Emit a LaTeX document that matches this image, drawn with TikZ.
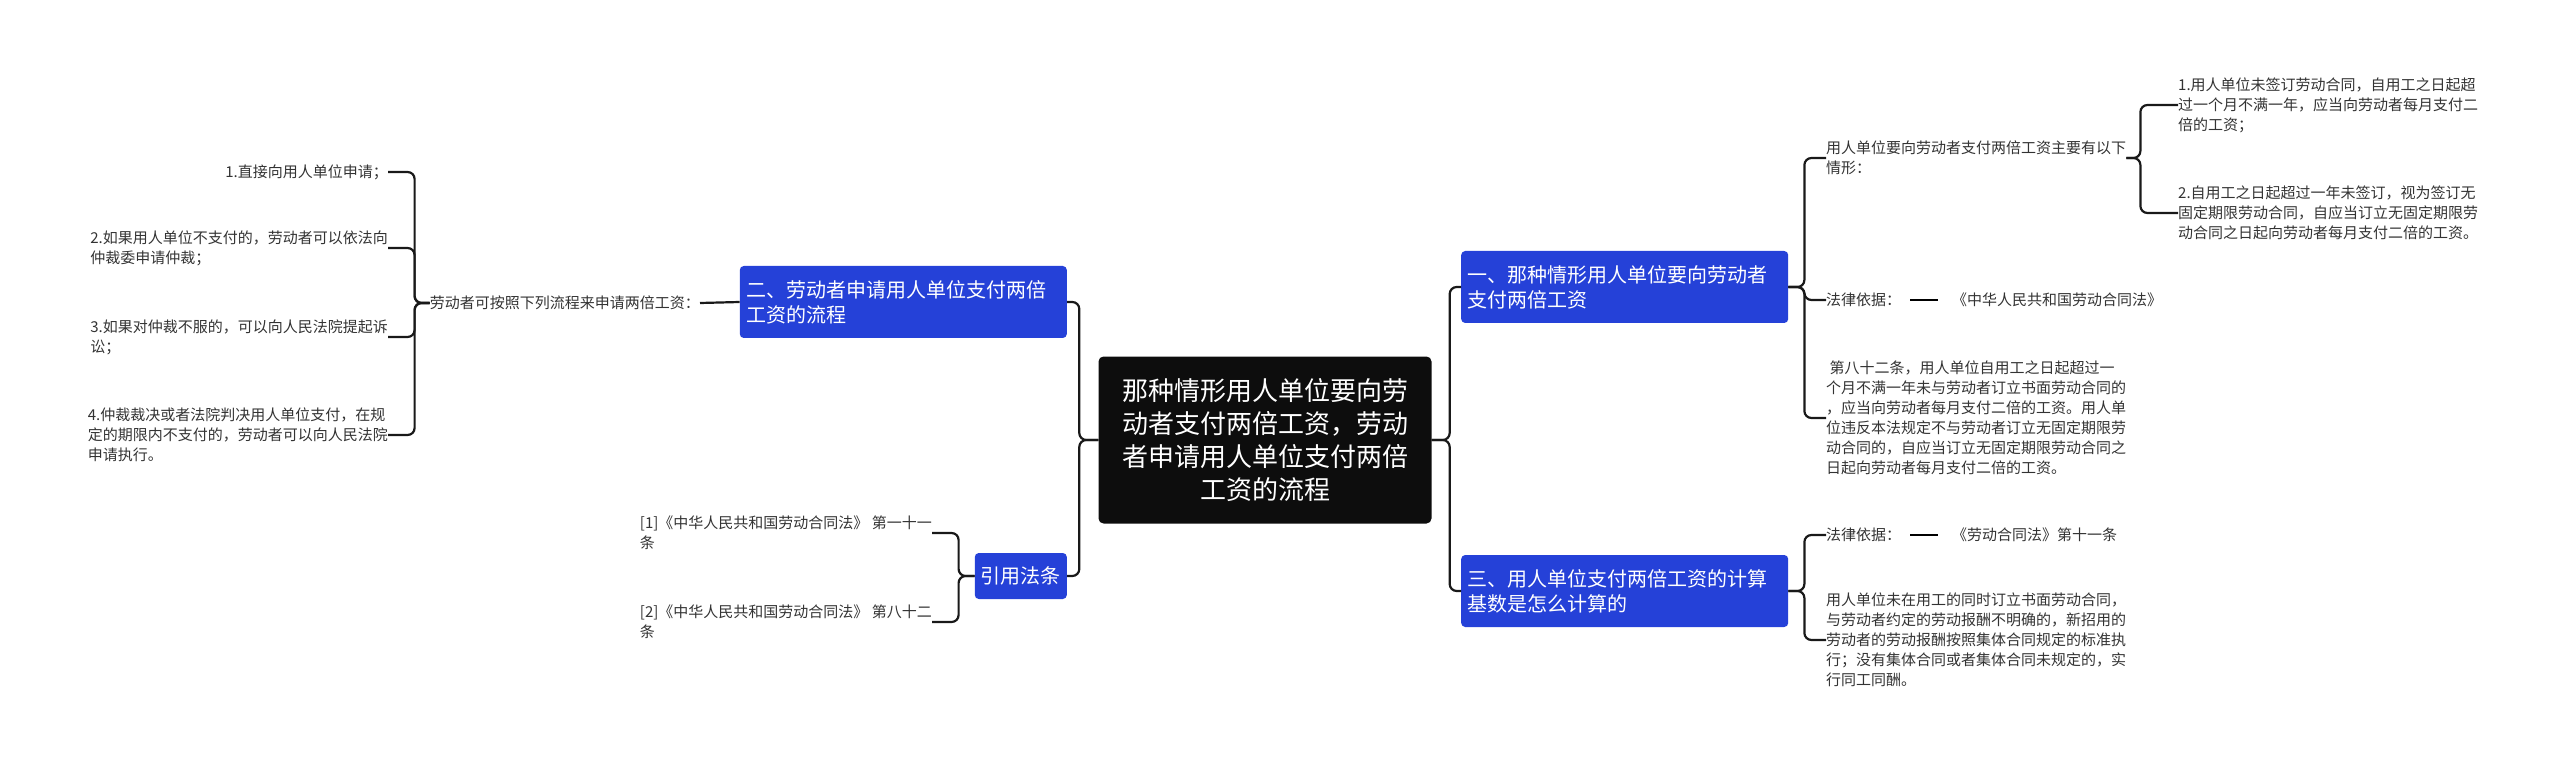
\documentclass[tikz,border=0pt]{standalone}
\usepackage{fontspec}
\setmainfont{Noto Sans CJK SC}
\begin{document}
\begin{tikzpicture}[x=1pt,y=-1pt,
  leaf/.style={inner sep=0pt,align=left,text=black!80,font=\fontsize{15}{20}\selectfont},
  br/.style={fill=blue!72!black!80!cyan,draw=none,rounded corners=4pt,text=white,align=left,inner sep=6pt,font=\fontsize{20}{25}\selectfont,minimum height=72pt,minimum width=327pt,text width=314pt},
  conn/.style={line width=2.2pt,draw=black!90,rounded corners=7pt}]
\definecolor{boxblue}{HTML}{2541D8}
\tikzset{br/.append style={fill=boxblue}}
\useasboundingbox (0,0) rectangle (2560,767);
% center
\node[fill=black!95,rounded corners=5pt,text=white,align=center,minimum width=333pt,minimum height=167pt,font=\fontsize{26}{33}\selectfont] (c) at (1265,440) {那种情形用人单位要向劳\\动者支付两倍工资，劳动\\者申请用人单位支付两倍\\工资的流程};
% branches
\node[br,anchor=west] (r1) at (1461,287) {一、那种情形用人单位要向劳动者\\支付两倍工资};
\node[br,anchor=west] (r3) at (1461,591) {三、用人单位支付两倍工资的计算\\基数是怎么计算的};
\node[br,anchor=east] (b2) at (1067,302) {二、劳动者申请用人单位支付两倍\\工资的流程};
\node[br,anchor=east,minimum width=0pt,text width=,minimum height=46pt,align=center] (ct) at (1067,576) {引用法条};
\draw[conn] (c.east) -- ++(18,0) |- (r1.west);
\draw[conn] (c.east) -- ++(18,0) |- (r3.west);
\draw[conn] (c.west) -- ++(-19,0) |- (b2.east);
\draw[conn] (c.west) -- ++(-19,0) |- (ct.east);
% left side
\node[leaf,anchor=east] (mid) at (700,303) {劳动者可按照下列流程来申请两倍工资：};
\draw[conn] (b2.west) -- (mid.east);
\node[leaf,anchor=east] (l1) at (388,172) {1.直接向用人单位申请；};
\node[leaf,anchor=east] (l2) at (388,248) {2.如果用人单位不支付的，劳动者可以依法向\\仲裁委申请仲裁；};
\node[leaf,anchor=east] (l3) at (388,337) {3.如果对仲裁不服的，可以向人民法院提起诉\\讼；};
\node[leaf,anchor=east] (l4) at (388,435) {4.仲裁裁决或者法院判决用人单位支付，在规\\定的期限内不支付的，劳动者可以向人民法院\\申请执行。};
\foreach \n in {l1,l2,l3,l4} \draw[conn] (mid.west) -- ++(-15,0) |- (\n.east);
\node[leaf,anchor=east] (f1) at (932,533) {[1]《中华人民共和国劳动合同法》 第一十一\\条};
\node[leaf,anchor=east] (f2) at (932,622) {[2]《中华人民共和国劳动合同法》 第八十二\\条};
\foreach \n in {f1,f2} \draw[conn] (ct.west) -- ++(-16,0) |- (\n.east);
% right side
\node[leaf,anchor=west] (la) at (1826,158) {用人单位要向劳动者支付两倍工资主要有以下\\情形：};
\node[leaf,anchor=west] (lw) at (1826,300) {法律依据：};
\node[leaf,anchor=west] (lwt) at (1952,300) {《中华人民共和国劳动合同法》};
\node[leaf,anchor=west] (a82) at (1826,418) {\ 第八十二条，用人单位自用工之日起超过一\\个月不满一年未与劳动者订立书面劳动合同的\\，应当向劳动者每月支付二倍的工资。用人单\\位违反本法规定不与劳动者订立无固定期限劳\\动合同的，自应当订立无固定期限劳动合同之\\日起向劳动者每月支付二倍的工资。};
\foreach \n in {la,lw,a82} \draw[conn] (r1.east) -- ++(16,0) |- (\n.west);
\draw[line width=2.2pt] ([xshift=9pt]lw.east) -- ([xshift=-14pt]lwt.west);
\node[leaf,anchor=west] (s1) at (2178,105) {1.用人单位未签订劳动合同，自用工之日起超\\过一个月不满一年，应当向劳动者每月支付二\\倍的工资；};
\node[leaf,anchor=west] (s2) at (2178,213) {2.自用工之日起超过一年未签订，视为签订无\\固定期限劳动合同，自应当订立无固定期限劳\\动合同之日起向劳动者每月支付二倍的工资。};
\foreach \n in {s1,s2} \draw[conn] (la.east) -- ++(14,0) |- (\n.west);
\node[leaf,anchor=west] (lw2) at (1826,535) {法律依据：};
\node[leaf,anchor=west] (lw2t) at (1952,535) {《劳动合同法》第十一条};
\draw[line width=2.2pt] ([xshift=9pt]lw2.east) -- ([xshift=-14pt]lw2t.west);
\node[leaf,anchor=west] (p3) at (1826,640) {用人单位未在用工的同时订立书面劳动合同，\\与劳动者约定的劳动报酬不明确的，新招用的\\劳动者的劳动报酬按照集体合同规定的标准执\\行；没有集体合同或者集体合同未规定的，实\\行同工同酬。};
\foreach \n in {lw2,p3} \draw[conn] (r3.east) -- ++(16,0) |- (\n.west);
\end{tikzpicture}
\end{document}
